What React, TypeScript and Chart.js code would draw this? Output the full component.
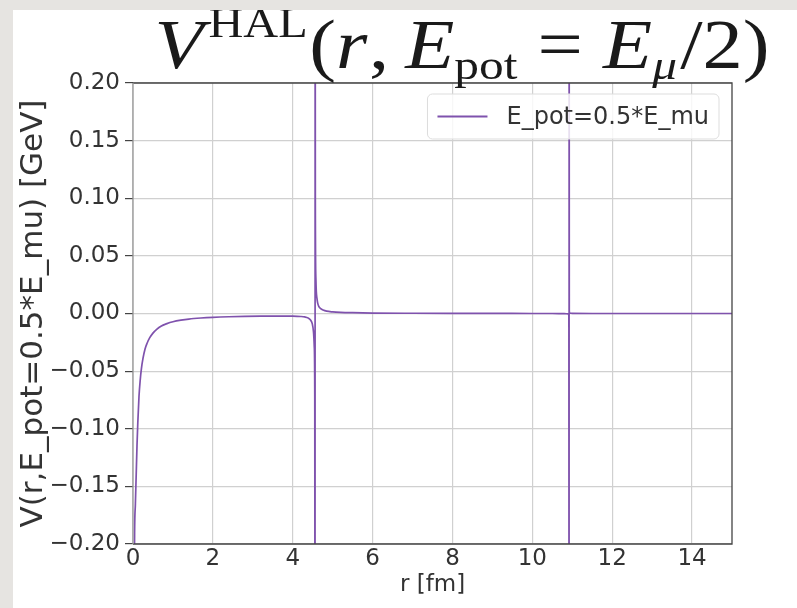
import React, { useEffect, useRef } from 'react';
import { Chart, registerables } from 'chart.js';

Chart.register(...registerables);

// Radial distance r [fm]
const radius = [
  0.02, 0.04, 0.06, 0.08, 0.1, 0.12, 0.15, 0.18, 0.21, 0.25, 0.3, 0.35, 0.42, 0.5,
  0.6, 0.7, 0.85, 1.0, 1.2, 1.4, 1.7, 2.0, 2.4, 2.8, 3.2, 3.6, 4.0, 4.2, 4.3, 4.38,
  4.44, 4.49, 4.52, 4.54, 4.552, 4.558, 4.562, 4.566, 4.58, 4.59, 4.605, 4.625, 4.655,
  4.7, 4.76, 4.85, 5.0, 5.2, 5.5, 6.0, 7.0, 8.0, 9.0, 10.0, 10.5, 10.8, 10.9, 10.915,
  10.92, 10.922, 10.925, 10.94, 11.0, 11.5, 12.0, 13.0, 14.0, 15.0,
];

// Potential V(r, E_pot = E_mu/2) [GeV]
const potential = [
  -0.3, -0.19, -0.165, -0.14, -0.115, -0.095, -0.072, -0.058, -0.048, -0.039, -0.031,
  -0.026, -0.021, -0.017, -0.0135, -0.011, -0.0088, -0.0072, -0.0058, -0.0048, -0.0039,
  -0.0033, -0.0028, -0.0025, -0.0023, -0.0022, -0.0023, -0.0026, -0.003, -0.0038,
  -0.0055, -0.009, -0.016, -0.029, -0.075, -0.35, 0.35, 0.098, 0.03, 0.019, 0.0135,
  0.009, 0.006, 0.0042, 0.003, 0.002, 0.0014, 0.001, 0.0007, 0.0004, 0.0002, 0.0001,
  0.0001, 0.0, 0.0, -0.0001, -0.0003, -0.002, -0.4, 0.4, 0.002, 0.0003, 0.0001, 0.0,
  0.0, 0.0, 0.0, 0.0,
];

const xTickValues = [0, 2, 4, 6, 8, 10, 12, 14];
const yTickValues = [-0.2, -0.15, -0.1, -0.05, 0, 0.05, 0.1, 0.15, 0.2];

const seriesLabel = 'E_pot=0.5*E_mu';
const xAxisLabel = 'r [fm]';
const yAxisLabel = 'V(r,E_pot=0.5*E_mu) [GeV]';

const LINE_COLOR = '#7f52ad';
const TEXT_COLOR = '#333333';
const GRID_COLOR = '#d0d0d0';
const SPINE_COLOR = '#444444';
const SANS = '"DejaVu Sans", sans-serif';
const SERIF = '"Liberation Serif", "DejaVu Serif", serif';

// Math-style title: V^{HAL}(r, E_pot = E_mu/2)
type Piece = { text: string; italic: boolean; size: number; dy: number; gap: number };
const titlePieces: Piece[] = [
  { text: 'V', italic: true, size: 1, dy: 0, gap: 0 },
  { text: 'HAL', italic: false, size: 0.6, dy: -0.44, gap: 0.06 },
  { text: '(', italic: false, size: 1, dy: 0, gap: 0.02 },
  { text: 'r', italic: true, size: 1, dy: 0, gap: 0 },
  { text: ',', italic: false, size: 1, dy: 0, gap: 0.02 },
  { text: 'E', italic: true, size: 1, dy: 0, gap: 0.2 },
  { text: 'pot', italic: false, size: 0.62, dy: 0.16, gap: 0 },
  { text: '=', italic: false, size: 1, dy: 0, gap: 0.25 },
  { text: 'E', italic: true, size: 1, dy: 0, gap: 0.25 },
  { text: '\u03bc', italic: true, size: 0.62, dy: 0.16, gap: 0 },
  { text: '/2)', italic: false, size: 1, dy: 0, gap: 0.04 },
];

const formatY = (v: number) => {
  const s = Math.abs(v) < 1e-9 ? '0.00' : v.toFixed(2);
  return s.replace('-', '\u2212');
};

const framePlugin = {
  id: 'frameAndLegend',
  afterDatasetsDraw(chart: any) {
    const { ctx, chartArea } = chart;
    const { left, right, top, bottom } = chartArea;
    ctx.save();
    // spines
    ctx.lineWidth = 1.3;
    ctx.strokeStyle = SPINE_COLOR;
    ctx.beginPath();
    ctx.moveTo(left, bottom);
    ctx.lineTo(right, bottom);
    ctx.lineTo(right, top);
    ctx.lineTo(left, top);
    ctx.stroke();
    ctx.strokeStyle = '#9a9a9a';
    ctx.beginPath();
    ctx.moveTo(left, top);
    ctx.lineTo(left, bottom);
    ctx.stroke();

    // legend box
    const label = chart.data.datasets[0].label as string;
    ctx.font = `24px ${SANS}`;
    const textW = ctx.measureText(label).width;
    const boxW = 10 + 50 + 19 + textW + 10;
    const boxH = 45;
    const boxR = right - 13;
    const boxL = boxR - boxW;
    const boxT = top + 11;
    ctx.beginPath();
    (ctx as any).roundRect(boxL, boxT, boxW, boxH, 5);
    ctx.fillStyle = 'rgba(255,255,255,0.82)';
    ctx.fill();
    ctx.lineWidth = 1;
    ctx.strokeStyle = '#dddddd';
    ctx.stroke();
    const midY = boxT + boxH / 2;
    ctx.strokeStyle = LINE_COLOR;
    ctx.lineWidth = 1.8;
    ctx.beginPath();
    ctx.moveTo(boxL + 10, midY);
    ctx.lineTo(boxL + 60, midY);
    ctx.stroke();
    ctx.fillStyle = TEXT_COLOR;
    ctx.textBaseline = 'middle';
    ctx.textAlign = 'left';
    ctx.fillText(label, boxL + 79, midY + 1);
    ctx.restore();
  },
  afterDraw(chart: any) {
    const { ctx } = chart;
    const S = 70;
    ctx.save();
    let total = 0;
    const widths = titlePieces.map((p) => {
      ctx.font = `${p.italic ? 'italic ' : ''}${Math.round(p.size * S)}px ${SERIF}`;
      const w = ctx.measureText(p.text).width;
      total += p.gap * S + w;
      return w;
    });
    const targetW = 615;
    const sx = targetW / total;
    const centerX = 449;
    const baseY = 58;
    ctx.translate(centerX - targetW / 2, baseY);
    ctx.scale(sx, 1);
    ctx.fillStyle = '#1a1a1a';
    ctx.textBaseline = 'alphabetic';
    ctx.textAlign = 'left';
    let x = 0;
    titlePieces.forEach((p, i) => {
      x += p.gap * S;
      ctx.font = `${p.italic ? 'italic ' : ''}${Math.round(p.size * S)}px ${SERIF}`;
      ctx.fillText(p.text, x, p.dy * S);
      x += widths[i];
    });
    ctx.restore();
  },
};

export default function App() {
  const canvasRef = useRef<HTMLCanvasElement | null>(null);

  useEffect(() => {
    if (!canvasRef.current) return;
    const points = radius.map((r, i) => ({ x: r, y: potential[i] }));
    const chart = new Chart(canvasRef.current, {
      type: 'line',
      data: {
        datasets: [
          {
            label: seriesLabel,
            data: points,
            borderColor: LINE_COLOR,
            borderWidth: 1.7,
            pointRadius: 0,
            fill: false,
            cubicInterpolationMode: 'monotone',
          },
        ],
      },
      options: {
        responsive: false,
        animation: false,
        devicePixelRatio: 1,
        layout: { padding: { left: 0, top: 73, right: 65, bottom: 0 } },
        plugins: {
          legend: { display: false },
          tooltip: { enabled: false },
          title: { display: false },
        },
        scales: {
          x: {
            type: 'linear',
            min: 0,
            max: 15,
            afterFit: (scale: any) => {
              scale.height = 64;
            },
            afterBuildTicks: (scale: any) => {
              scale.ticks = xTickValues.map((v) => ({ value: v }));
            },
            ticks: {
              color: TEXT_COLOR,
              font: { family: SANS, size: 23 },
              padding: 1,
              maxRotation: 0,
              callback: (v: any) => String(v),
            },
            grid: { color: GRID_COLOR, lineWidth: 1.2, drawTicks: false },
            border: { display: false },
            title: {
              display: true,
              text: xAxisLabel,
              color: TEXT_COLOR,
              font: { family: SANS, size: 23 },
              padding: { top: 0, bottom: 9 },
            },
          },
          y: {
            type: 'linear',
            min: -0.2,
            max: 0.2,
            afterFit: (scale: any) => {
              scale.width = 120;
            },
            afterBuildTicks: (scale: any) => {
              scale.ticks = yTickValues.map((v) => ({ value: v }));
            },
            ticks: {
              color: TEXT_COLOR,
              font: { family: SANS, size: 23 },
              padding: 5,
              callback: (v: any) => formatY(Number(v)),
            },
            grid: {
              color: GRID_COLOR,
              lineWidth: 1.2,
              drawTicks: true,
              tickLength: 8,
              tickColor: SPINE_COLOR,
              tickWidth: 1.2,
            },
            border: { display: false },
            title: {
              display: true,
              text: yAxisLabel,
              color: TEXT_COLOR,
              font: { family: SANS, size: 31 },
              padding: { top: 2, bottom: 0 },
            },
          },
        },
      },
      plugins: [framePlugin],
    });
    return () => chart.destroy();
  }, []);

  return (
    <>
      <style>{`body{margin:0;background:#e6e4e1;}`}</style>
      <div
        style={{
          position: 'absolute',
          left: 13,
          top: 10,
          width: 784,
          height: 598,
          background: '#ffffff',
        }}
      >
        <canvas ref={canvasRef} width={784} height={598} style={{ display: 'block' }} />
      </div>
    </>
  );
}
